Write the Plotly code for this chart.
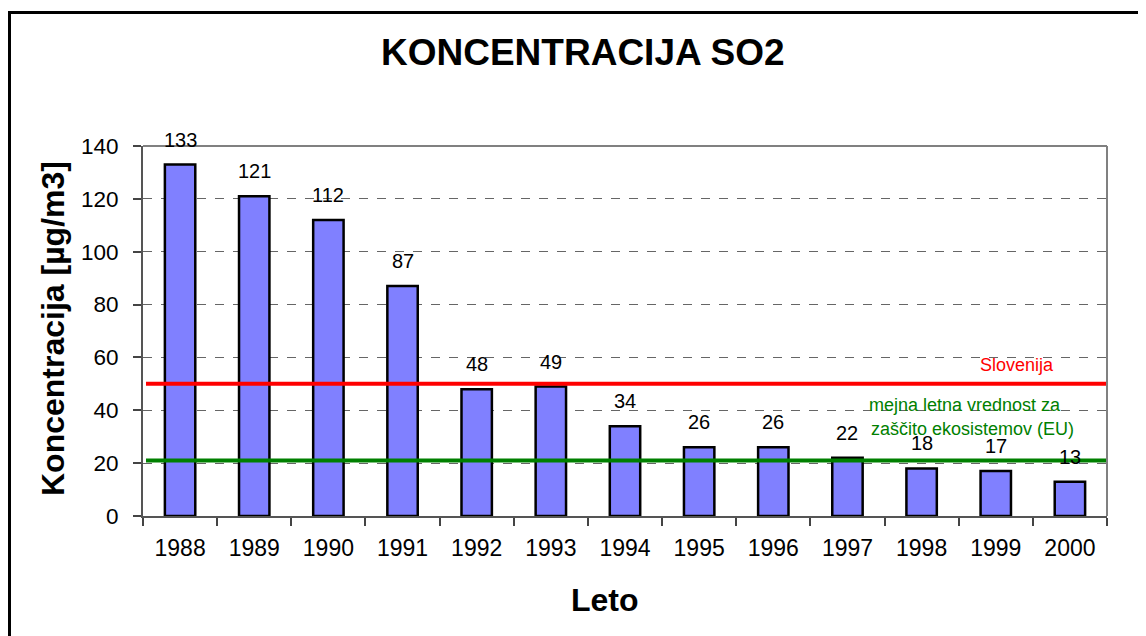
import plotly.graph_objects as go

years = ["1988", "1989", "1990", "1991", "1992", "1993", "1994",
         "1995", "1996", "1997", "1998", "1999", "2000"]
so2 = [133, 121, 112, 87, 48, 49, 34, 26, 26, 22, 18, 17, 13]
limit_slovenija = 50
limit_eu = 21
y_ticks = [0, 20, 40, 60, 80, 100, 120, 140]

OFF = 8  # page body margin
W, H = 1146 - OFF, 636 - OFF
L, T = 143 - OFF, 146 - OFF
R = W - (1107 - OFF)
B = H - (516 - OFF)
PW = W - L - R
PH = H - T - B


def px(x):
    return (x - OFF - L) / PW


def py(y):
    return (H - B - (y - OFF)) / PH


FONT = "Arial, Liberation Sans, sans-serif"

fig = go.Figure()
fig.add_trace(go.Bar(
    x=years, y=so2, width=0.41,
    marker=dict(color="#8080FF", line=dict(color="black", width=2.5)),
    showlegend=False, hoverinfo="x+y",
))

ann = []
for i, v in enumerate(so2):
    ann.append(dict(x=i, y=v, xref="x", yref="y", text=str(v), showarrow=False,
                    yanchor="middle", yshift=25,
                    font=dict(family=FONT, size=20, color="black")))

ann += [
    dict(x=px(583), y=py(53), xref="paper", yref="paper", text="<b>KONCENTRACIJA SO2</b>",
         showarrow=False, xanchor="center", yanchor="middle",
         font=dict(family=FONT, size=37, color="black")),
    dict(x=px(605), y=py(600), xref="paper", yref="paper", text="<b>Leto</b>",
         showarrow=False, xanchor="center", yanchor="middle",
         font=dict(family=FONT, size=32, color="black")),
    dict(x=px(53), y=py(329), xref="paper", yref="paper", text="<b>Koncentracija [µg/m3]</b>",
         showarrow=False, xanchor="center", yanchor="middle", textangle=-90,
         font=dict(family=FONT, size=32, color="black")),
    dict(x=px(1017), y=py(365), xref="paper", yref="paper", text="Slovenija",
         showarrow=False, xanchor="center", yanchor="middle",
         font=dict(family=FONT, size=18, color="#FF0000")),
    dict(x=px(965), y=py(405), xref="paper", yref="paper", text="mejna letna vrednost za",
         showarrow=False, xanchor="center", yanchor="middle",
         font=dict(family=FONT, size=18, color="#008000")),
    dict(x=px(972), y=py(429), xref="paper", yref="paper", text="zaščito ekosistemov (EU)",
         showarrow=False, xanchor="center", yanchor="middle",
         font=dict(family=FONT, size=18, color="#008000")),
]

shapes = [
    dict(type="line", xref="paper", yref="y", x0=px(146), x1=1, y0=limit_slovenija,
         y1=limit_slovenija, line=dict(color="#FF0000", width=4)),
    dict(type="line", xref="paper", yref="y", x0=px(146), x1=1, y0=limit_eu,
         y1=limit_eu, line=dict(color="#008000", width=4)),
    dict(type="rect", xref="paper", yref="paper", x0=px(9.5), x1=px(1140), y0=py(650),
         y1=py(12.5), line=dict(color="black", width=3), fillcolor="rgba(0,0,0,0)",
         layer="above"),
    dict(type="line", xref="paper", yref="paper", x0=0, x1=1, y0=1, y1=1,
         line=dict(color="#808080", width=2)),
    dict(type="line", xref="paper", yref="paper", x0=1, x1=1, y0=0, y1=1,
         line=dict(color="#808080", width=2)),
]

fig.update_layout(
    width=W, height=H,
    margin=dict(l=L, r=R, t=T, b=B, pad=0, autoexpand=False),
    paper_bgcolor="white", plot_bgcolor="white",
    font=dict(family=FONT, size=22, color="black"),
    annotations=ann, shapes=shapes,
    xaxis=dict(
        type="category", range=[-0.5, 12.5], tickson="boundaries", ticks="outside",
        ticklen=8, tickwidth=1.5, tickcolor="#444", showline=True, linecolor="#555",
        linewidth=2, mirror=False, showgrid=False, ticklabelstandoff=10,
        automargin=False, tickangle=0,
        tickfont=dict(family=FONT, size=23, color="black"),
    ),
    yaxis=dict(
        range=[0, 140], tickvals=y_ticks, ticks="outside", ticklen=8,
        tickwidth=1.5, tickcolor="#444", showline=True, linecolor="#555",
        linewidth=2, showgrid=True, gridcolor="#666", griddash="dash",
        gridwidth=1, zeroline=False, ticklabelstandoff=10, automargin=False,
        tickfont=dict(family=FONT, size=22.5, color="black"),
    ),
)

fig.write_html("out.html")
